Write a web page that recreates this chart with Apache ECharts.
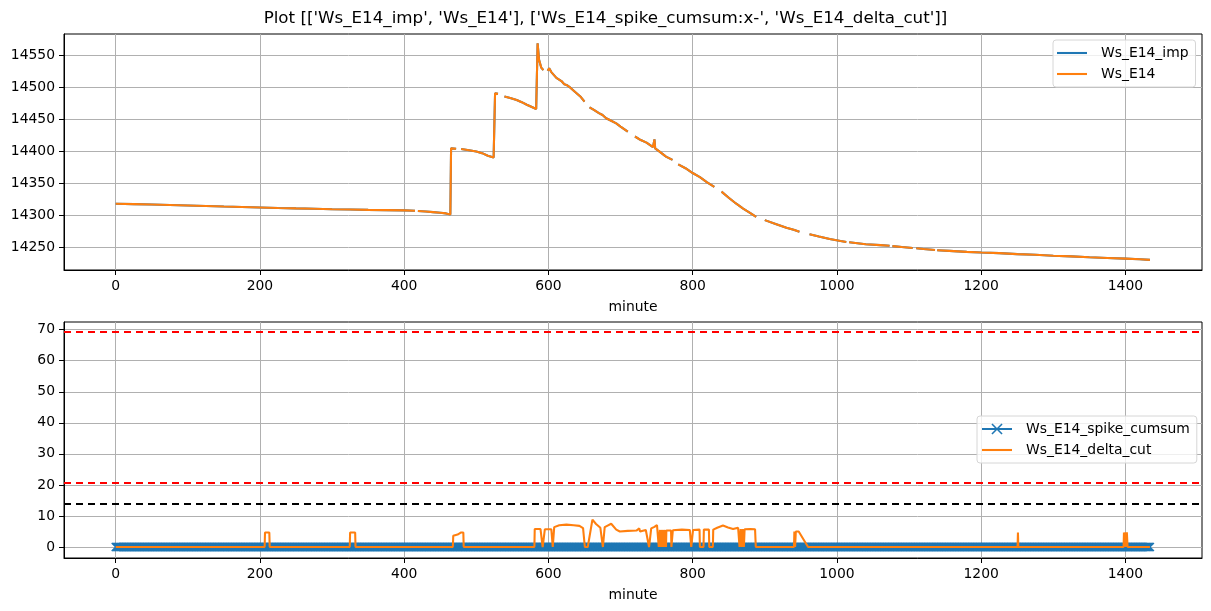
<!DOCTYPE html>
<html><head><meta charset="utf-8">
<script src="https://cdn.jsdelivr.net/npm/echarts@6/dist/echarts.min.js"></script>
<style>html,body{margin:0;padding:0;background:#fff}#c{width:1211px;height:611px}</style>
</head><body><div id="c"></div>
<script>
// ---------------- DATA ----------------
const titleText = "Plot [['Ws_E14_imp', 'Ws_E14'], ['Ws_E14_spike_cumsum:x-', 'Ws_E14_delta_cut']]";
const topNames = ['Ws_E14_imp', 'Ws_E14'];
const bottomNames = ['Ws_E14_spike_cumsum', 'Ws_E14_delta_cut'];
const xAxisName = 'minute';

// Top panel: minute / value (null = gap in the recorded signal)
const topMinutes = [0,25,50,75,100,125,150,175,200,225,250,275,300,325,350,375,400,415,417,419,430,440,450,458,464,
  465,472,475,479,490,500,508,516,524,
  526,530,534,539,547,556,563,570,577,583,
  585,587,590,593,596,599,601,604,611,618,622,625,630,632,639,645,650,653,657,663,670,675,680,687,694,700,705,710,715,
  720,728,736,745,747,748,755,763,772,776,780,790,800,810,820,830,835,840,850,860,870,880,888,893,900,915,930,940,948,954,
  962,975,990,1005,1013,1015,1017,1040,1060,1073,1075,1077,1090,1105,1107,1110,1120,1136,1137,1139,1156,1180,1200,1225,
  1250,1275,1300,1325,1350,1375,1400,1420,1434];
const wsE14 = [14318.5,14318,14317.3,14316.6,14315.8,14315,14314.2,14313.5,14312.8,14312,14311.3,14310.7,14310,14309.5,14309,14308.6,14308.2,14307.6,null,14307.3,14306.4,14305.5,14304.5,14303.5,14301.8,
  14405,14404.5,null,14404,14402,14400,14397.5,14393.5,14390.6,
  14491,14490,null,14486,14483.5,14480.5,14477,14473,14469.5,14466.5,
  14569,14543,14531,14527,null,14526,14530,14524,14515,14510,14505,14504,14500,14497,14491,14485,14478,null,14469,14465,14460,14457,14452,14448,14444,14439,14435,14431,null,
  14423.5,14418,14414,14407,14419,14405,14399,14392,14387,null,14380,14374,14366.5,14360,14352,14345,null,14337.5,14328,14319,14311,14304,14298,null,14293,14287,14281,14278,14275,null,
  14271,14267.5,14263.5,14260.5,14259,null,14258.5,14255.5,14254,14253,null,14252.5,14251,14249.5,null,14249,14248,14246.5,null,14246,14245,14243.5,14242.5,14241.5,
  14240,14239,14237.5,14236.5,14235,14234,14233,14232,14231];
const wsE14Imp = wsE14.slice(); // identical to Ws_E14 (fully hidden beneath it)

// Bottom panel
const cumsumRange = [0, 1434];      // minutes covered by Ws_E14_spike_cumsum
const cumsumValue = 0;               // read as 0 over the whole range
const deltaMinutes = [0,206.5,207,213,213.5,324.5,325,332,332.5,467.5,468,474,479,482,482.5,
  580.5,581,589,592,595,604,606,608,615,625,635,643,648,650.5,654.5,661,666,672,675.5,678,682,687,694,699,710,722,724,726,727,735,739.5,742.5,747,750.5,
  753,754.5,755.5,757,758,759.5,760.5,762,763,763.5,770,770.5,772.5,785,796,798,800.5,809.5,810,815,815.5,822.5,823,828,828.5,834,842,849,856,863,865,866.5,868,869.5,871,872,880,886.5,887.5,
  940.5,941,942,943,947,960,1250.5,1251,1251.5,1397.5,1398,1399,1400,1401,1402,1403,1434];
const deltaCut = [0,0,4.7,4.7,0,0,4.7,4.7,0,0,3.6,4.0,4.7,4.7,0,
  0,5.8,5.8,0,5.7,5.7,0,6.4,7.0,7.2,7.0,6.8,6.1,0,0,8.8,7.4,6.2,0,6.4,6.9,7.5,5.6,5.0,5.2,5.3,5.1,6.0,5.0,5.5,0,6.0,6.5,7.1,
  0,5.5,0,5.5,0,5.5,0,5.5,0,5.3,5.3,0,5.4,5.6,5.5,0,5.5,5.6,0,0,5.6,5.6,0,0,5.6,6.2,6.9,6.3,5.8,6.2,0,5.8,0,5.8,0,5.7,5.8,5.7,0,
  0,5.0,0,5.0,5.0,0,0,4.7,0,0,4.7,0,4.7,0,4.7,0,0];
const hlineValues = [69.3, 20.8, 14.0];

// axis ranges / ticks
const xRange = [-71.7, 1506.2], xStep = 200;
const yTopRange = [14215.2, 14583.4], yTopStep = 50;
const yBotRange = [-3.54, 72.48], yBotStep = 10;

// ---------------- CHART ----------------
const FONT = "'DejaVu Sans', sans-serif";
const FS = 13.9;
const LW = 2.08;
const BLUE = '#1f77b4', ORANGE = '#ff7f0e';
const hlineColors = ['#ff0000', '#ff0000', '#000000'];
const xMarker = 'path://M0,1L1,0L5,4L9,0L10,1L6,5L10,9L9,10L5,6L1,10L0,9L4,5Z';
const lineIcon = 'path://M0,0L30,0L30,2.08L0,2.08Z';

const pairs = (xs, ys) => xs.map((x, i) => [x, ys[i] === null ? '-' : ys[i]]);
const cumsumData = [];
for (let m = cumsumRange[0]; m <= cumsumRange[1]; m++) cumsumData.push([m, cumsumValue]);

function fmt(step) {
  return v => (Math.abs(v / step - Math.round(v / step)) < 1e-6 ? String(Math.round(v)) : '');
}
const textBase = { fontFamily: FONT, fontSize: FS, color: '#000' };
function xAxisCfg(g) {
  return {
    type: 'value', gridIndex: g, min: xRange[0], max: xRange[1], splitNumber: 8,
    name: xAxisName, nameLocation: 'middle', nameGap: 30, nameTextStyle: textBase,
    axisLine: { show: true, onZero: false, lineStyle: { color: '#000', width: 1 } },
    axisTick: { show: true, length: 5, lineStyle: { color: '#000', width: 1 } },
    axisLabel: Object.assign({ margin: 9, formatter: fmt(xStep), showMinLabel: false, showMaxLabel: false }, textBase),
    splitLine: { show: true, showMinLine: false, showMaxLine: false, lineStyle: { color: '#b0b0b0', width: 1 } }
  };
}
function yAxisCfg(g, range, step) {
  return {
    type: 'value', gridIndex: g, min: range[0], max: range[1], splitNumber: 7, scale: true,
    axisLine: { show: true, onZero: false, lineStyle: { color: '#000', width: 1 } },
    axisTick: { show: true, length: 5, lineStyle: { color: '#000', width: 1 } },
    axisLabel: Object.assign({ margin: 9, formatter: fmt(step), showMinLabel: false, showMaxLabel: false }, textBase),
    splitLine: { show: true, showMinLine: false, showMaxLine: false, lineStyle: { color: '#b0b0b0', width: 1 } }
  };
}
function legendCfg(items, left, top) {
  return {
    data: items, orient: 'vertical', left: left, top: top, selectedMode: false,
    itemWidth: 30, itemHeight: 14, itemGap: 7, padding: [6, 7, 6, 4],
    backgroundColor: 'rgba(255,255,255,0.8)', borderColor: '#d6d6d6', borderWidth: 1, borderRadius: 3,
    textStyle: Object.assign({ padding: [0, 0, 0, 9] }, textBase)
  };
}

const chart = echarts.init(document.getElementById('c'));
chart.setOption({
  animation: false,
  backgroundColor: '#fff',
  title: { text: titleText, left: 'center', top: 5, textStyle: { fontFamily: FONT, fontSize: 16.7, fontWeight: 'normal', color: '#000' } },
  grid: [
    { left: 64, top: 34, width: 1138, height: 236, show: true, borderColor: '#000', borderWidth: 1, backgroundColor: 'transparent' },
    { left: 64, top: 322, width: 1138, height: 236, show: true, borderColor: '#000', borderWidth: 1, backgroundColor: 'transparent' }
  ],
  xAxis: [xAxisCfg(0), xAxisCfg(1)],
  yAxis: [yAxisCfg(0, yTopRange, yTopStep), yAxisCfg(1, yBotRange, yBotStep)],
  legend: [
    legendCfg([{ name: topNames[0], icon: lineIcon }, { name: topNames[1], icon: lineIcon }], 1053, 40),
    legendCfg([{ name: bottomNames[0] }, { name: bottomNames[1], icon: lineIcon }], 977, 416)
  ],
  series: [
    { name: topNames[0], type: 'line', z: 2, xAxisIndex: 0, yAxisIndex: 0, data: pairs(topMinutes, wsE14Imp),
      symbol: 'none', showSymbol: false, lineStyle: { color: BLUE, width: LW }, itemStyle: { color: BLUE }, silent: true },
    { name: topNames[1], type: 'line', z: 3, xAxisIndex: 0, yAxisIndex: 0, data: pairs(topMinutes, wsE14),
      symbol: 'none', showSymbol: false, lineStyle: { color: ORANGE, width: LW }, itemStyle: { color: ORANGE }, silent: true },
    { name: bottomNames[0], type: 'line', z: 2, xAxisIndex: 1, yAxisIndex: 1, data: cumsumData,
      symbol: xMarker, symbolSize: 9, showSymbol: true, lineStyle: { color: BLUE, width: LW }, itemStyle: { color: BLUE }, silent: true },
    { name: bottomNames[1], type: 'line', z: 4, xAxisIndex: 1, yAxisIndex: 1, data: pairs(deltaMinutes, deltaCut),
      symbol: 'none', showSymbol: false, lineStyle: { color: ORANGE, width: LW }, itemStyle: { color: ORANGE }, silent: true,
      markLine: { silent: true, symbol: ['none', 'none'], label: { show: false }, animation: false,
        data: hlineValues.map((v, i) => ({ yAxis: v, lineStyle: { color: hlineColors[i], type: [7, 5], width: LW } })) } }
  ]
});
</script></body></html>
